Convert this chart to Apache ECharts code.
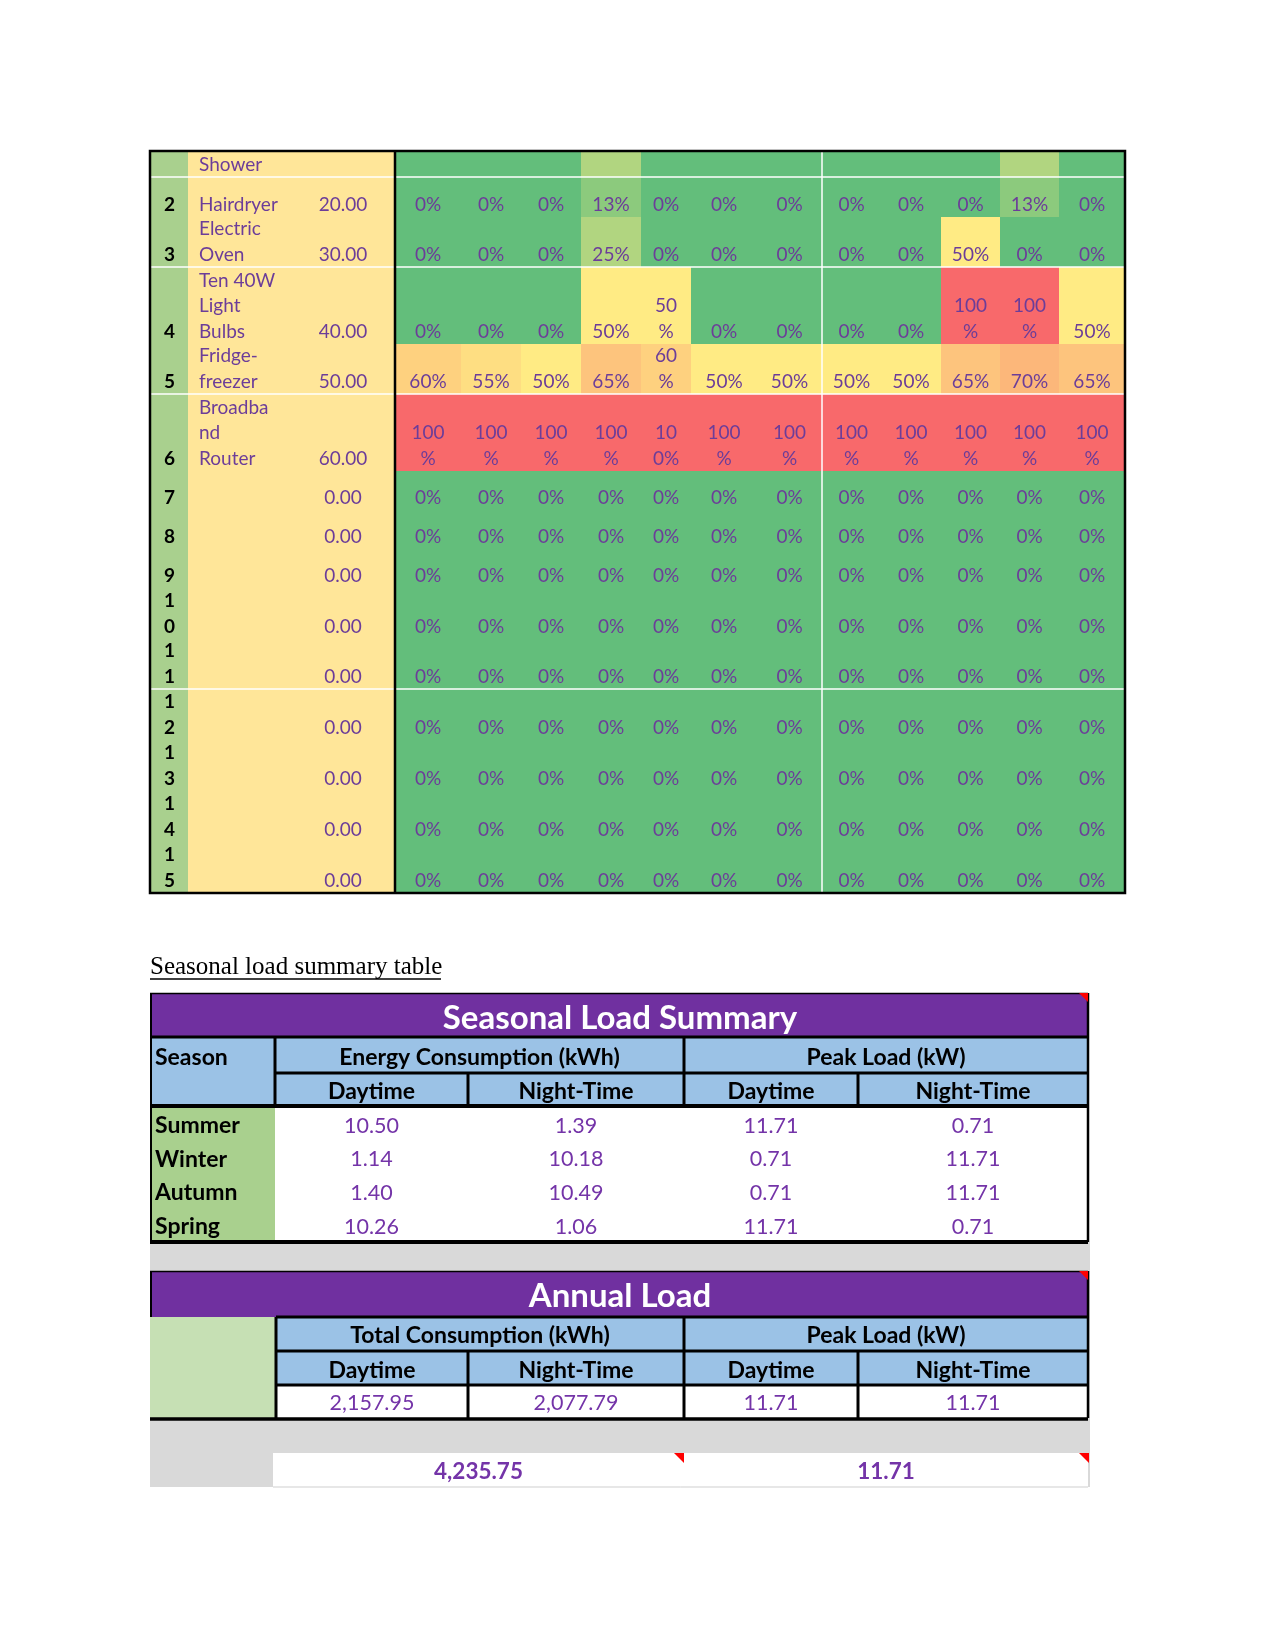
<!DOCTYPE html>
<html>
<head>
<meta charset="utf-8">
<script src="https://cdn.jsdelivr.net/npm/echarts@6/dist/echarts.min.js"></script>
<style>
html,body{margin:0;padding:0;background:#ffffff;}
#main{width:1275px;height:1651px;}
</style>
</head>
<body>
<div id="main"></div>
<script>
// ---------------- DATA ----------------
// Appliance usage table (rows continue from a previous page; row 1 is cut off)
const rowNumbers = [null, 2, 3, 4, 5, 6, 7, 8, 9, 10, 11, 12, 13, 14, 15];
const applianceNames = ['Shower', 'Hairdryer', 'Electric\nOven', 'Ten 40W\nLight\nBulbs', 'Fridge-\nfreezer',
  'Broadba\nnd\nRouter', '', '', '', '', '', '', '', '', ''];
const applianceLoads = [null, 20.00, 30.00, 40.00, 50.00, 60.00, 0.00, 0.00, 0.00, 0.00, 0.00, 0.00, 0.00, 0.00, 0.00];

// monthly usage share (%) per appliance row, 12 columns
const usageShower    = [0, 0, 0, 25, 0, 0, 0, 0, 0, 0, 25, 0];
const usageHairdryer = [0, 0, 0, 13, 0, 0, 0, 0, 0, 0, 13, 0];
const usageOven      = [0, 0, 0, 25, 0, 0, 0, 0, 0, 50, 0, 0];
const usageLights    = [0, 0, 0, 50, 50, 0, 0, 0, 0, 100, 100, 50];
const usageFridge    = [60, 55, 50, 65, 60, 50, 50, 50, 50, 65, 70, 65];
const usageRouter    = [100, 100, 100, 100, 100, 100, 100, 100, 100, 100, 100, 100];
const usageRow7      = [0, 0, 0, 0, 0, 0, 0, 0, 0, 0, 0, 0];
const usageRow8      = [0, 0, 0, 0, 0, 0, 0, 0, 0, 0, 0, 0];
const usageRow9      = [0, 0, 0, 0, 0, 0, 0, 0, 0, 0, 0, 0];
const usageRow10     = [0, 0, 0, 0, 0, 0, 0, 0, 0, 0, 0, 0];
const usageRow11     = [0, 0, 0, 0, 0, 0, 0, 0, 0, 0, 0, 0];
const usageRow12     = [0, 0, 0, 0, 0, 0, 0, 0, 0, 0, 0, 0];
const usageRow13     = [0, 0, 0, 0, 0, 0, 0, 0, 0, 0, 0, 0];
const usageRow14     = [0, 0, 0, 0, 0, 0, 0, 0, 0, 0, 0, 0];
const usageRow15     = [0, 0, 0, 0, 0, 0, 0, 0, 0, 0, 0, 0];

// Seasonal load summary
const seasons      = ['Summer', 'Winter', 'Autumn', 'Spring'];
const energyDay    = [10.50, 1.14, 1.40, 10.26];
const energyNight  = [1.39, 10.18, 10.49, 1.06];
const peakDay      = [11.71, 0.71, 0.71, 11.71];
const peakNight    = [0.71, 11.71, 11.71, 0.71];

// Annual load
const annualConsumption = [2157.95, 2077.79]; // daytime, night-time (kWh)
const annualPeak        = [11.71, 11.71];     // daytime, night-time (kW)
const annualTotals      = [4235.75, 11.71];   // total kWh, peak kW

// ---------------- LAYOUT (page pixels) ----------------
const usageRows = [usageShower, usageHairdryer, usageOven, usageLights, usageFridge, usageRouter,
  usageRow7, usageRow8, usageRow9, usageRow10, usageRow11, usageRow12, usageRow13, usageRow14, usageRow15];
const monthColEdges = [395, 461, 521, 581, 641, 691, 757, 822, 881, 941, 1000, 1059, 1125];
const rowEdges = [151, 177, 217, 267, 344, 394, 471, 510, 549, 588, 639, 689, 740, 791, 842, 893];
const numColEdges = [150, 188];
const nameColEdges = [188, 395];
const seasonColEdges = [150, 275, 468, 684, 858, 1088];
const seasonRowTop = 1109, seasonRowH = 33.6;
const annualColEdges = [150, 276, 468, 684, 858, 1088];
const TXT_DROP = 0.3; // bottom-aligned text offset inside cells

const PURPLE_TXT = '#6C3D99';
const VAL_PURPLE = '#7434A8';
const HEADER_PURPLE = '#7030A0';
const BLUE = '#9BC2E6';
const GREEN_COL = '#A9D08E';
const LIGHT_GREEN = '#C6E0B4';
const YELLOW_COL = '#FFE699';
const GRAY = '#D9D9D9';
const SANS = 'Lato, Carlito, "Noto Sans", sans-serif';

function wrapChunks(str, n) {
  const out = [];
  for (let i = 0; i < str.length; i += n) out.push(str.slice(i, i + n));
  return out.join('\n');
}
function fmt2(v) {
  return v.toLocaleString('en-US', {minimumFractionDigits: 2, maximumFractionDigits: 2});
}

// data for series
const cellData = [];
usageRows.forEach((row, r) => row.forEach((v, c) => cellData.push([c, r, v])));
const applianceData = rowNumbers.map((n, r) => [r, applianceLoads[r] == null ? -1 : applianceLoads[r]]);
const seasonData = seasons.map((s, i) => [i, energyDay[i], energyNight[i], peakDay[i], peakNight[i]]);

// ---------------- DECOR (graphic) ----------------
const G = [];
function rect(x0, y0, x1, y1, fill, z) {
  G.push({type: 'rect', z: z || 0, shape: {x: x0, y: y0, width: x1 - x0, height: y1 - y0}, style: {fill: fill}});
}
function line(x1, y1, x2, y2, color, w, z) {
  G.push({type: 'line', z: z == null ? 10 : z, shape: {x1, y1, x2, y2}, style: {stroke: color, lineWidth: w}});
}
function text(str, x, y, opts) {
  G.push({type: 'text', z: 12, style: Object.assign({
    text: str, x: x, y: y, align: 'center', verticalAlign: 'middle',
    fontFamily: SANS, fontSize: 23, fontWeight: 'bold', fill: '#000'
  }, opts || {})});
}
function tri(x, y, s) {
  G.push({type: 'polygon', z: 12, shape: {points: [[x - s, y], [x, y], [x, y + s]]}, style: {fill: '#FF0000'}});
}

// top table borders
[1, 3, 5, 11].forEach(i => line(150, rowEdges[i], 1125, rowEdges[i], '#FFFFFF', 1.5));
line(822, 151, 822, 893, '#FFFFFF', 1.5);
G.push({type: 'rect', z: 11, shape: {x: 150, y: 151, width: 975, height: 742}, style: {fill: null, stroke: '#000', lineWidth: 2.5}});
line(395, 151, 395, 893, '#000', 2.5, 11);

// caption
text('Seasonal load summary table', 150, 967, {align: 'left', fontFamily: '"Liberation Serif", "Times New Roman", serif', fontSize: 25, fontWeight: 'normal'});
line(150, 979, 441, 979, '#000', 1.3);

// seasonal table backgrounds
rect(150, 993, 1088, 1037, HEADER_PURPLE);
rect(150, 1037, 1088, 1106, BLUE);
rect(150, 1106, 275, 1242, GREEN_COL);
rect(275, 1106, 1088, 1242, '#FFFFFF');
// gray band
rect(150, 1242, 1090, 1487, GRAY);
// annual backgrounds
rect(150, 1271, 1088, 1317, HEADER_PURPLE);
rect(150, 1317, 276, 1418, LIGHT_GREEN);
rect(276, 1317, 1088, 1385, BLUE);
rect(276, 1385, 1088, 1418, '#FFFFFF');
rect(273, 1453, 1088, 1487, '#FFFFFF');

// seasonal lines
line(150, 993.5, 1088, 993.5, '#000', 1.5);
line(150, 1037, 1088, 1037, '#000', 3);
line(275, 1073, 1088, 1073, '#000', 3);
line(150, 1106, 1088, 1106, '#000', 4);
line(150, 1242, 1088, 1242, '#000', 4);
line(275, 1037, 275, 1106, '#000', 3);
line(684, 1037, 684, 1106, '#000', 3);
line(468, 1073, 468, 1106, '#000', 3);
line(858, 1073, 858, 1106, '#000', 3);
line(151, 993, 151, 1242, '#000', 2);
line(1088, 993, 1088, 1242, '#000', 2.5);
// annual lines
line(150, 1271.5, 1088, 1271.5, '#000', 1.5);
line(151, 1271, 151, 1317, '#000', 2);
line(276, 1317, 1088, 1317, '#000', 3);
line(276, 1351, 1088, 1351, '#000', 3);
line(276, 1385, 1088, 1385, '#000', 3);
line(150, 1419, 1088, 1419, '#000', 3.5);
line(276, 1317, 276, 1418, '#000', 3);
line(684, 1317, 684, 1418, '#000', 3);
line(468, 1351, 468, 1418, '#000', 3);
line(858, 1351, 858, 1418, '#000', 3);
line(1088, 1271, 1088, 1418, '#000', 2.5);
line(273, 1487, 1088, 1487, '#CFCFCF', 1);

// header texts
text('Seasonal Load Summary', 620, 1018, {fill: '#FFFFFF', fontSize: 33});
text('Season', 155, 1058, {align: 'left'});
text('Energy Consumption (kWh)', 479.5, 1058);
text('Peak Load (kW)', 886, 1058);
[['Daytime', 371.5], ['Night-Time', 576], ['Daytime', 771], ['Night-Time', 973]].forEach(d => text(d[0], d[1], 1091.5));
text('Annual Load', 620, 1296.5, {fill: '#FFFFFF', fontSize: 33});
text('Total Consumption (kWh)', 480, 1336);
text('Peak Load (kW)', 886, 1336);
[['Daytime', 372], ['Night-Time', 576], ['Daytime', 771], ['Night-Time', 973]].forEach(d => text(d[0], d[1], 1371));

tri(1088, 993, 9);
tri(1088, 1271, 9);
tri(684, 1453, 10);
tri(1089, 1453, 10);

// ---------------- CHART ----------------
const chart = echarts.init(document.getElementById('main'), null, {renderer: 'canvas'});
chart.setOption({
  backgroundColor: '#FFFFFF',
  animation: false,
  grid: {left: 0, top: 0, width: 1275, height: 1651, show: false},
  xAxis: {type: 'value', min: 0, max: 1275, show: false},
  yAxis: {type: 'value', min: 0, max: 1651, inverse: true, show: false},
  visualMap: {
    type: 'continuous', show: false, min: 0, max: 100, dimension: 2, seriesIndex: 0,
    inRange: {color: ['#63BE7B', '#FFEB84', '#F8696B']}
  },
  graphic: {elements: G},
  series: [
    {
      type: 'custom', name: 'usage', clip: false, z: 2,
      data: cellData,
      renderItem: function (params, api) {
        const c = api.value(0), r = api.value(1), v = api.value(2);
        const tl = api.coord([monthColEdges[c], rowEdges[r]]);
        const br = api.coord([monthColEdges[c + 1], rowEdges[r + 1]]);
        const w = br[0] - tl[0], h = br[1] - tl[1];
        const children = [{
          type: 'rect', shape: {x: tl[0], y: tl[1], width: w + 0.6, height: h + 0.6},
          style: {fill: api.visual('color')}
        }];
        if (r > 0) {
          children.push({
            type: 'text', z2: 5,
            style: {
              text: wrapChunks(v + '%', w < 55 ? 2 : 3), x: tl[0] + w / 2, y: br[1] + TXT_DROP,
              align: 'center', verticalAlign: 'bottom', lineHeight: 25.5,
              fontFamily: SANS, fontSize: 19, fill: PURPLE_TXT
            }
          });
        }
        return {type: 'group', children: children};
      }
    },
    {
      type: 'custom', name: 'appliances', clip: false, z: 2,
      data: applianceData,
      renderItem: function (params, api) {
        const r = api.value(0), load = api.value(1);
        const tl = api.coord([numColEdges[0], rowEdges[r]]);
        const mid = api.coord([numColEdges[1], rowEdges[r + 1]]);
        const br = api.coord([nameColEdges[1], rowEdges[r + 1]]);
        const children = [
          {type: 'rect', shape: {x: tl[0], y: tl[1], width: mid[0] - tl[0], height: br[1] - tl[1] + 0.6}, style: {fill: GREEN_COL}},
          {type: 'rect', shape: {x: mid[0], y: tl[1], width: br[0] - mid[0], height: br[1] - tl[1] + 0.6}, style: {fill: YELLOW_COL}}
        ];
        const num = rowNumbers[r];
        if (num != null) {
          children.push({type: 'text', z2: 5, style: {
            text: wrapChunks(String(num), 1), x: (tl[0] + mid[0]) / 2 + 0.5, y: br[1] + TXT_DROP,
            align: 'center', verticalAlign: 'bottom', lineHeight: 25.5,
            fontFamily: SANS, fontSize: 19, fontWeight: 'bold', fill: '#000'
          }});
        }
        if (applianceNames[r]) {
          children.push({type: 'text', z2: 5, style: {
            text: applianceNames[r], x: mid[0] + 11, y: br[1] + TXT_DROP,
            align: 'left', verticalAlign: 'bottom', lineHeight: 25.5,
            fontFamily: SANS, fontSize: 19, fill: PURPLE_TXT
          }});
        }
        if (load >= 0) {
          children.push({type: 'text', z2: 5, style: {
            text: load.toFixed(2), x: br[0] - 52, y: br[1] + TXT_DROP,
            align: 'center', verticalAlign: 'bottom', lineHeight: 25.5,
            fontFamily: SANS, fontSize: 19, fill: PURPLE_TXT
          }});
        }
        return {type: 'group', children: children};
      }
    },
    {
      type: 'custom', name: 'seasonal', clip: false, z: 3,
      data: seasonData,
      renderItem: function (params, api) {
        const i = api.value(0);
        const yc = api.coord([0, seasonRowTop + seasonRowH * (i + 0.5)])[1];
        const children = [{type: 'text', style: {
          text: seasons[i], x: api.coord([seasonColEdges[0] + 5, 0])[0], y: yc,
          align: 'left', verticalAlign: 'middle', fontFamily: SANS, fontSize: 23, fontWeight: 'bold', fill: '#000'
        }}];
        for (let k = 1; k <= 4; k++) {
          const xc = api.coord([(seasonColEdges[k] + seasonColEdges[k + 1]) / 2, 0])[0];
          children.push({type: 'text', style: {
            text: fmt2(api.value(k)), x: xc, y: yc, align: 'center', verticalAlign: 'middle',
            fontFamily: SANS, fontSize: 21.5, fill: VAL_PURPLE
          }});
        }
        return {type: 'group', children: children};
      }
    },
    {
      type: 'custom', name: 'annual', clip: false, z: 3,
      data: [[0, annualConsumption[0]], [1, annualConsumption[1]], [2, annualPeak[0]], [3, annualPeak[1]]],
      renderItem: function (params, api) {
        const k = api.value(0) + 1;
        const p = api.coord([(annualColEdges[k] + annualColEdges[k + 1]) / 2, 1403.5]);
        return {type: 'text', style: {
          text: fmt2(api.value(1)), x: p[0], y: p[1], align: 'center', verticalAlign: 'middle',
          fontFamily: SANS, fontSize: 21.5, fill: VAL_PURPLE
        }};
      }
    },
    {
      type: 'custom', name: 'totals', clip: false, z: 3,
      data: [[0, annualTotals[0]], [1, annualTotals[1]]],
      renderItem: function (params, api) {
        const k = api.value(0);
        const spans = [[273, 684], [684, 1088]];
        const p = api.coord([(spans[k][0] + spans[k][1]) / 2, 1471.5]);
        return {type: 'text', style: {
          text: fmt2(api.value(1)), x: p[0], y: p[1], align: 'center', verticalAlign: 'middle',
          fontFamily: SANS, fontSize: 22.5, fontWeight: 'bold', fill: VAL_PURPLE
        }};
      }
    }
  ]
});
</script>
</body>
</html>
